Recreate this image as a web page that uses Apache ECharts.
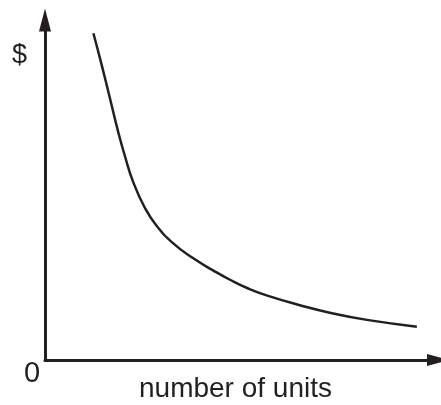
<!DOCTYPE html>
<html>
<head>
<meta charset="utf-8">
<script src="https://cdn.jsdelivr.net/npm/echarts@6/dist/echarts.min.js"></script>
<style>
  html, body { margin: 0; padding: 0; background: #fff; }
  #chart { width: 441px; height: 405px; }
</style>
</head>
<body>
<div id="chart"></div>
<script>
// curve (arbitrary units, axes 0..100)
const unitsX = [12.3, 14.4, 16.5, 18.6, 20.3, 22.4, 25.4, 28.4, 32.6, 37.7, 42.8, 47.0, 51.5, 56.3, 64.8, 73.2, 81.8, 94.5];
const costY = [96.1, 86.8, 77.0, 67.1, 60.0, 52.4, 44.7, 39.4, 34.3, 29.9, 26.3, 23.6, 21.1, 19.0, 16.1, 13.7, 11.8, 9.8];

const yLabel = "$";
const originLabel = "0";
const xLabel = "number of units";

const ink = "#231f20";
const font = "'Liberation Sans', Arial, sans-serif";

const chart = echarts.init(document.getElementById("chart"));

chart.setOption({
  animation: false,
  grid: { left: 45, right: 2.5, top: 20, bottom: 45 },
  xAxis: {
    type: "value",
    min: 0,
    max: 100,
    splitLine: { show: false },
    axisTick: { show: false },
    axisLabel: { show: false },
    axisLine: {
      lineStyle: { color: ink, width: 3 },
      symbol: ["none", "triangle"],
      symbolSize: [12, 23],
    },
  },
  yAxis: {
    type: "value",
    min: 0,
    max: 100,
    splitLine: { show: false },
    axisTick: { show: false },
    axisLabel: { show: false },
    axisLine: {
      lineStyle: { color: ink, width: 3 },
      symbol: ["none", "triangle"],
      symbolSize: [12, 23],
    },
  },
  series: [
    {
      type: "line",
      smooth: 0.5,
      showSymbol: false,
      data: unitsX.map((x, i) => [x, costY[i]]),
      lineStyle: { color: ink, width: 2.5 },
    },
  ],
  graphic: [
    {
      type: "text",
      left: 12,
      top: 42,
      style: { text: yLabel, font: "27px " + font, fill: ink },
    },
    {
      type: "text",
      left: 24,
      top: 359,
      style: { text: originLabel, font: "29px " + font, fill: ink },
    },
    {
      type: "text",
      left: 139,
      top: 375,
      style: { text: xLabel, font: "28px " + font, fill: ink },
    },
  ],
});
</script>
</body>
</html>
